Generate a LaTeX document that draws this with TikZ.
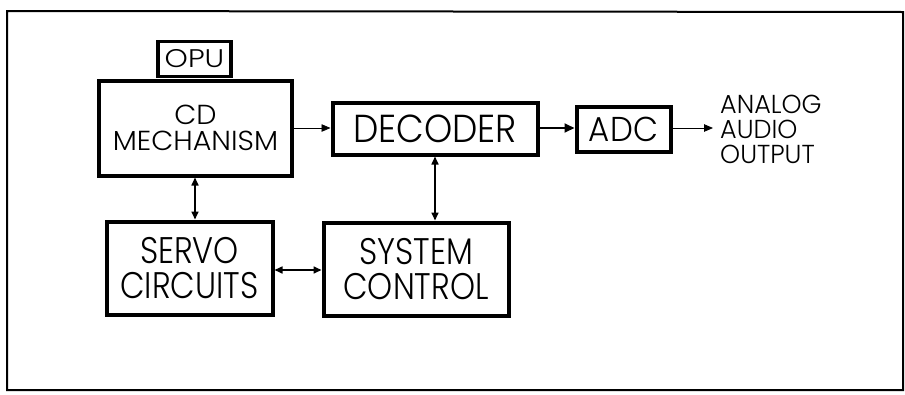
\documentclass[tikz,border=0pt]{standalone}
\usepackage{fontspec}
\setmainfont{Poppins}[UprightFont=* Light]
\usetikzlibrary{arrows.meta}
\newcommand{\fsz}[3]{\fontsize{#1}{#2}\selectfont\addfontfeature{FakeStretch=#3}}
\begin{document}
\begin{tikzpicture}[x=1pt,y=-1pt,
  blk/.style={draw,line width=4pt,inner sep=0pt,align=center},
  thinar/.style={line width=0.8pt,-{Triangle[length=9pt,width=7.5pt]}},
  midar/.style={line width=1.8pt,-{Triangle[length=10pt,width=9pt]}},
  dbl/.style={line width=1.6pt,{Triangle[length=8pt,width=7pt]}-{Triangle[length=8pt,width=7pt]}}]
\useasboundingbox (0,0) rectangle (905,394);
\draw[line width=2pt] (7,11) -- (903,12) -- (903,390) -- (7,390) -- cycle;
\node[blk,line width=3.5pt,minimum width=73pt,minimum height=35pt,font=\fsz{25.5}{26}{1.16}] (opu) at (194.5,59) {OPU};
\node[blk,minimum width=193pt,minimum height=95pt,font=\fsz{27.5}{25.5}{1.04}] (cd) at (195.5,128) {CD\\MECHANISM};
\node[blk,minimum width=205pt,minimum height=52pt,font=\fsz{39}{39}{0.92}] (dec) at (435,128.5) {DECODER};
\node[blk,minimum width=94pt,minimum height=45pt,font=\fsz{34.5}{34}{0.94}] (adc) at (623.5,129) {ADC};
\node[align=left,anchor=west,inner sep=0pt,font=\fsz{26}{25}{0.98}] (out) at (720,129) {ANALOG\\AUDIO\\OUTPUT};
\node[blk,minimum width=166pt,minimum height=93pt,font=\fsz{37}{34.5}{0.86}] (servo) at (189.5,268) {SERVO\\CIRCUITS};
\node[blk,minimum width=185pt,minimum height=93pt,font=\fsz{37}{34.5}{0.86}] (sys) at (416,269) {SYSTEM\\CONTROL};
\draw[thinar] (cd.east |- 0,128) -- (dec.west |- 0,128);
\draw[midar] (dec.east |- 0,128) -- (adc.west |- 0,128);
\draw[thinar,shorten >=7pt] (adc.east |- 0,128) -- (out.west |- 0,128);
\draw[dbl] (cd.south -| 195,0) -- (servo.north -| 195,0);
\draw[dbl] (dec.south -| 435,0) -- (sys.north -| 435,0);
\draw[dbl] (servo.east |- 0,270) -- (sys.west |- 0,270);
\end{tikzpicture}
\end{document}
